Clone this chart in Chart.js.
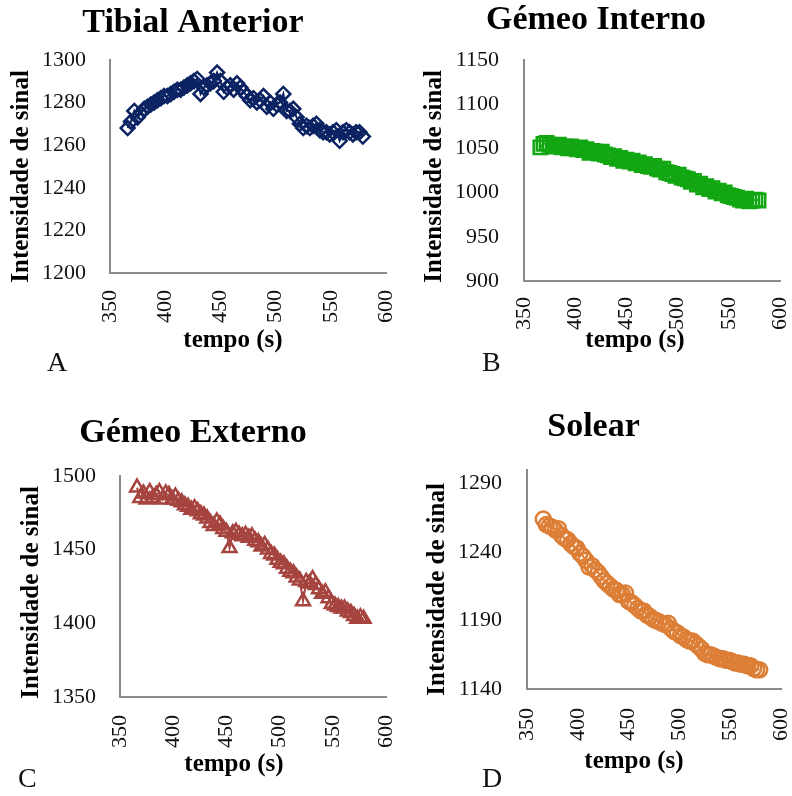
<!DOCTYPE html>
<html>
<head>
<meta charset="utf-8">
<script src="https://cdn.jsdelivr.net/npm/chart.js@4.4.1/dist/chart.umd.min.js"></script>
<style>
  body { margin: 0; background: #fff; }
  #wrap { position: relative; width: 792px; height: 796px; overflow: hidden; }
  canvas { position: absolute; }
  .letra { position: absolute; font-family: "Liberation Serif", serif; font-size: 28px; color: #111; }
</style>
</head>
<body>
<div id="wrap">
  <canvas id="chartA" width="396" height="356" style="left:0px;top:0px"></canvas>
  <canvas id="chartB" width="382" height="356" style="left:410px;top:0px"></canvas>
  <canvas id="chartC" width="400" height="380" style="left:0px;top:400px"></canvas>
  <canvas id="chartD" width="386" height="377" style="left:406px;top:400px"></canvas>
  <div class="letra" style="left:47px;top:346px">A</div>
  <div class="letra" style="left:482px;top:346px">B</div>
  <div class="letra" style="left:18px;top:762px">C</div>
  <div class="letra" style="left:482px;top:762px">D</div>
</div>
<script>
// tempo de aquisição (s)
const tempo = [366, 369, 372, 375, 378, 381, 384, 387, 390, 393, 396, 399,
  402, 405, 408, 411, 414, 417, 420, 423, 426, 429, 432, 435,
  438, 441, 444, 447, 450, 453, 456, 459, 462, 465, 468, 471,
  474, 477, 480, 483, 486, 489, 492, 495, 498, 501, 504, 507,
  510, 513, 516, 519, 522, 525, 528, 531, 534, 537, 540, 543,
  546, 549, 552, 555, 558, 561, 564, 567, 570, 573, 576, 579];

const tibialAnterior = [1268, 1271, 1276, 1273, 1275, 1277, 1278, 1279, 1280, 1281, 1282, 1283,
  1283, 1284, 1285, 1286, 1286, 1287, 1288, 1289, 1290, 1291, 1284, 1287,
  1288, 1289, 1290, 1294, 1290, 1285, 1287, 1288, 1286, 1289, 1287, 1285,
  1283, 1281, 1282, 1280, 1281, 1283, 1278, 1280, 1277, 1279, 1280, 1284,
  1276, 1276, 1277, 1273, 1270, 1268, 1269, 1268, 1269, 1270, 1267, 1266,
  1266, 1265, 1266, 1267, 1262, 1266, 1267, 1266, 1265, 1266, 1266, 1264];

const gemeoInterno = [1051, 1055, 1056, 1054, 1053, 1052, 1054, 1051, 1052, 1050, 1052, 1050,
  1049, 1051, 1048, 1049, 1045, 1047, 1046, 1044, 1046, 1043, 1042, 1040,
  1041, 1038, 1039, 1036, 1037, 1035, 1036, 1033, 1034, 1031, 1032, 1030,
  1029, 1030, 1027, 1026, 1027, 1023, 1022, 1021, 1019, 1020, 1017, 1016,
  1015, 1012, 1013, 1009, 1010, 1006, 1007, 1004, 1005, 1001, 1002, 999,
  1000, 997, 996, 995, 994, 992, 991, 993, 990, 991, 992, 991];

const gemeoExterno = [1492, 1485, 1488, 1484, 1489, 1485, 1487, 1489, 1484, 1488, 1487, 1484,
  1486, 1483, 1482, 1480, 1479, 1477, 1478, 1476, 1474, 1473, 1471, 1468,
  1466, 1469, 1467, 1464, 1462, 1451, 1461, 1462, 1460, 1459, 1460, 1458,
  1459, 1456, 1455, 1452, 1453, 1450, 1447, 1446, 1443, 1441, 1440, 1437,
  1435, 1434, 1431, 1429, 1415, 1428, 1427, 1430, 1426, 1423, 1420, 1421,
  1417, 1413, 1412, 1411, 1410, 1410, 1408, 1407, 1405, 1403, 1404, 1403];

const solear = [1264, 1260, 1259, 1258, 1256, 1257, 1252, 1250, 1249, 1246, 1244, 1243,
  1239, 1237, 1234, 1229, 1230, 1227, 1225, 1222, 1219, 1217, 1215, 1213,
  1212, 1209, 1209, 1210, 1204, 1203, 1201, 1199, 1197, 1197, 1194, 1193,
  1191, 1190, 1189, 1188, 1187, 1188, 1184, 1182, 1181, 1179, 1178, 1176,
  1175, 1175, 1173, 1171, 1169, 1166, 1165, 1165, 1164, 1163, 1162, 1162,
  1161, 1161, 1160, 1159, 1159, 1158, 1158, 1157, 1157, 1155, 1154, 1154];

// marcas dos eixos
const xTicks = [350, 400, 450, 500, 550, 600];
const yTicksA = [1200, 1220, 1240, 1260, 1280, 1300];
const yTicksB = [900, 950, 1000, 1050, 1100, 1150];
const yTicksC = [1350, 1400, 1450, 1500];
const yTicksD = [1140, 1190, 1240, 1290];

const serif = '"Liberation Serif", "Times New Roman", serif';
const eixoCor = '#8a8a8a';

// títulos dos eixos desenhados à mão, um pouco deslocados do centro da área
const rotulosEixos = {
  id: 'rotulosEixos',
  afterDraw(chart, args, opts) {
    const {ctx, chartArea: a} = chart;
    ctx.save();
    ctx.fillStyle = '#000';
    ctx.font = 'bold 25px ' + serif;
    ctx.textAlign = 'center';
    ctx.textBaseline = 'middle';
    ctx.fillText('tempo (s)', (a.left + a.right) / 2 + opts.dx, chart.height - 15);
    ctx.translate(opts.yX, (a.top + a.bottom) / 2 + opts.dy);
    ctx.rotate(-Math.PI / 2);
    ctx.fillText('Intensidade de sinal', 0, 0);
    ctx.restore();
  }
};

function painel(id, cfg) {
  const pts = tempo.map((t, i) => ({x: t, y: cfg.valores[i]}));
  return new Chart(document.getElementById(id), {
    type: 'scatter',
    data: {
      datasets: [{
        data: pts,
        showLine: true,
        borderColor: cfg.cor,
        borderWidth: 2,
        backgroundColor: 'rgba(0,0,0,0)',
        pointStyle: cfg.marcador,
        pointRadius: cfg.raio,
        pointBorderWidth: 2.5,
        pointBorderColor: cfg.cor,
        pointBackgroundColor: 'rgba(0,0,0,0)',
        tension: 0
      }]
    },
    plugins: [rotulosEixos],
    options: {
      responsive: false,
      animation: false,
      devicePixelRatio: 1,
      layout: { padding: { left: 0, right: cfg.padRight, top: cfg.padTop, bottom: 0 } },
      plugins: {
        legend: { display: false },
        tooltip: { enabled: false },
        title: {
          display: true,
          text: cfg.titulo,
          color: '#000',
          font: { family: serif, size: 34, weight: 'bold', lineHeight: 1.2 },
          padding: { top: 0, bottom: cfg.titleGap }
        },
        rotulosEixos: { dx: cfg.xTitDx, dy: cfg.yTitDy, yX: cfg.yTitX }
      },
      scales: {
        x: {
          type: 'linear',
          min: 350,
          max: 600,
          afterBuildTicks: s => { s.ticks = xTicks.map(v => ({value: v})); },
          afterFit: s => {
            s.height = cfg.xAltura;
            s.paddingLeft = 0;
            s.paddingRight = 0;
          },
          grid: { display: false, drawTicks: false },
          border: { display: true, color: eixoCor, width: 2 },
          ticks: {
            color: '#111',
            font: { family: serif, size: 22 },
            minRotation: 90,
            maxRotation: 90,
            autoSkip: false,
            padding: cfg.xTickPad,
            callback: v => String(v)
          }
        },
        y: {
          type: 'linear',
          min: cfg.yTicks[0],
          max: cfg.yMax,
          afterBuildTicks: s => { s.ticks = cfg.yTicks.map(v => ({value: v})); },
          afterFit: s => { s.width = cfg.yLargura; },
          grid: { display: false, drawTicks: false },
          border: { display: true, color: eixoCor, width: 2 },
          ticks: {
            color: '#111',
            font: { family: serif, size: 22 },
            padding: cfg.yTickPad,
            callback: v => String(v)
          }
        }
      }
    }
  });
}

painel('chartA', {
  titulo: 'Tibial Anterior', valores: tibialAnterior, cor: '#0b2362',
  marcador: 'rectRot', raio: 7, yTicks: yTicksA, yMax: 1300,
  padTop: 3, padRight: 10, titleGap: 16, yLargura: 110, yTickPad: 24,
  xAltura: 83, xTickPad: 17, xTitDx: -15, yTitDy: 10, yTitX: 22
});

painel('chartB', {
  titulo: 'Gémeo Interno', valores: gemeoInterno, cor: '#12a612',
  marcador: 'rect', raio: 9.5, yTicks: yTicksB, yMax: 1150,
  padTop: 0, padRight: 10, titleGap: 19, yLargura: 114, yTickPad: 25,
  xAltura: 75, xTickPad: 16, xTitDx: -17, yTitDy: 6, yTitX: 25
});

painel('chartC', {
  titulo: 'Gémeo Externo', valores: gemeoExterno, cor: '#a6443f',
  marcador: 'triangle', raio: 8, yTicks: yTicksC, yMax: 1500,
  padTop: 13, padRight: 14, titleGap: 22, yLargura: 120, yTickPad: 24,
  xAltura: 83, xTickPad: 18, xTitDx: -19, yTitDy: 6, yTitX: 32
});

painel('chartD', {
  titulo: 'Solear', valores: solear, cor: '#dc7e35',
  marcador: 'circle', raio: 7.5, yTicks: yTicksD, yMax: 1300,
  padTop: 7, padRight: 11, titleGap: 22, yLargura: 121, yTickPad: 25,
  xAltura: 88, xTickPad: 19, xTitDx: -20, yTitDy: 10, yTitX: 32
});
</script>
</body>
</html>
